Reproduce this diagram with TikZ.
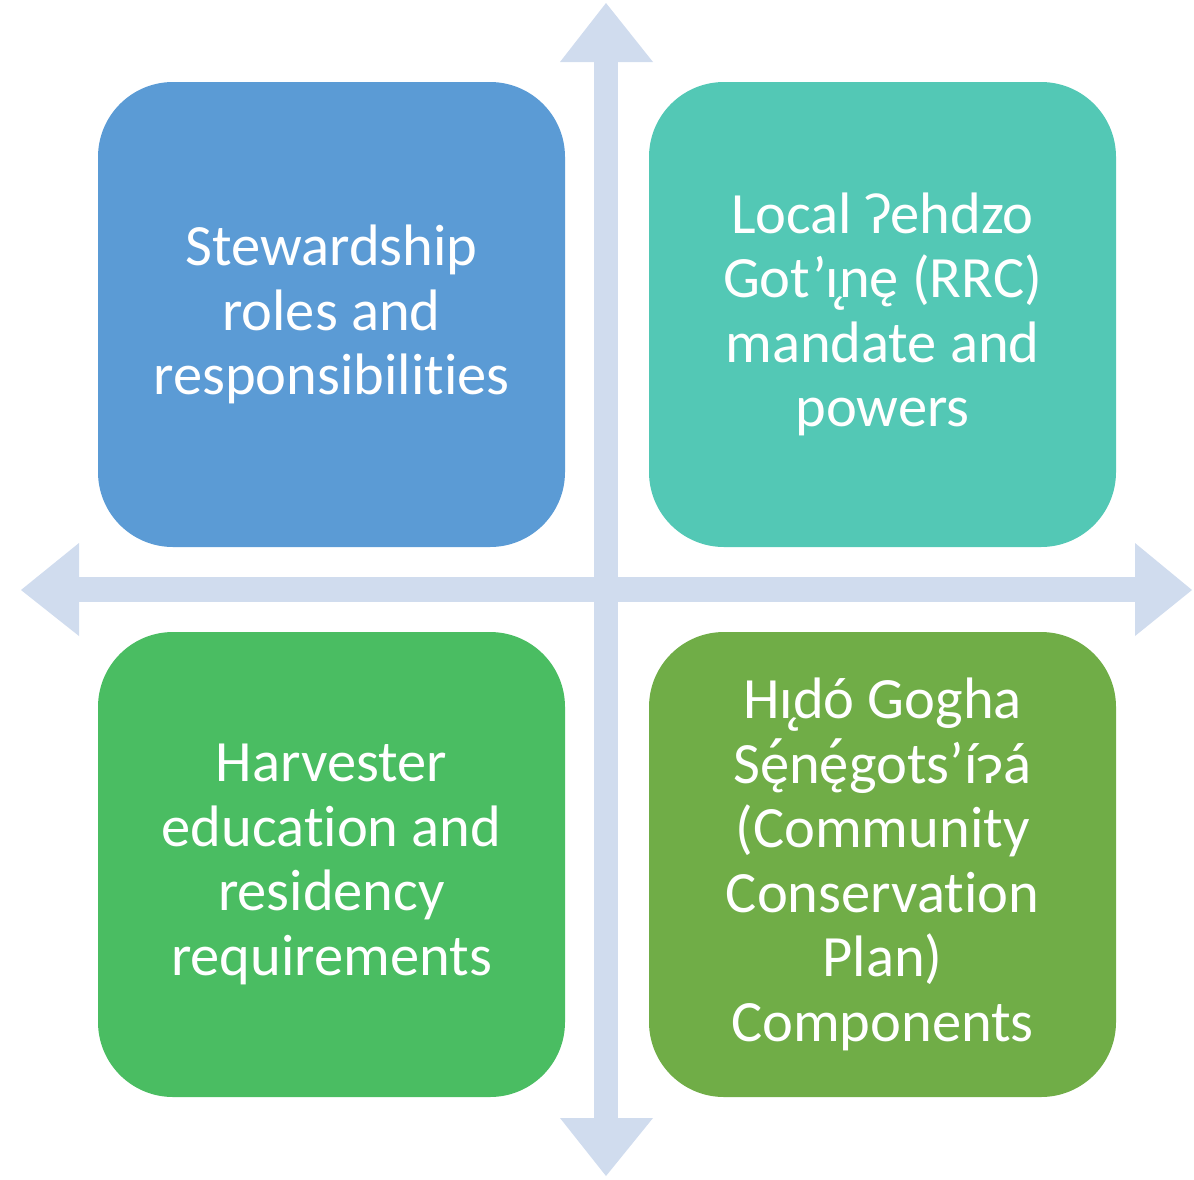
\documentclass[tikz,border=0pt]{standalone}
\usepackage{fontspec}
\setmainfont[Ligatures=NoCommon]{Carlito}
\newfontfamily\mk{Noto Sans}
\newcommand{\ogo}{{\mk ̨}}
\newcommand{\acu}{{\mk ́}}
\begin{document}
\begin{tikzpicture}[x=1pt,y=-1pt,
  quad/.style={rounded corners=75pt, minimum width=467pt, minimum height=465pt, inner sep=0pt,
     text=white, align=center, font=\fontsize{58.5}{64.5}\selectfont},
  axis/.style={fill=arrowc, draw=none}]
\definecolor{arrowc}{HTML}{D0DCEE}
\definecolor{qa}{HTML}{5B9BD5}
\definecolor{qb}{HTML}{53C8B5}
\definecolor{qc}{HTML}{4ABD62}
\definecolor{qd}{HTML}{70AD47}
\useasboundingbox (0,0) rectangle (1194,1179);
% arrows
\fill[axis] (594,60) rectangle (618,1120);
\fill[axis] (60,577) rectangle (1135,602);
\fill[axis] (606,3) -- (653,62) -- (560,62) -- cycle;
\fill[axis] (606,1176) -- (653,1118) -- (560,1118) -- cycle;
\fill[axis] (21,590) -- (79,543) -- (79,636) -- cycle;
\fill[axis] (1192,590) -- (1135,543) -- (1135,636) -- cycle;
% boxes
\node[quad, fill=qa] (tl) at (331.5,314.5) {Stewardship\\roles and\\responsibilities};
\node[quad, fill=qb] (tr) at (882.5,314.5) {Local Ɂehdzo\\Got’ı\ogo nę (RRC)\\mandate and\\powers};
\node[quad, fill=qc] (bl) at (331.5,864.5) {Harvester\\education and\\residency\\requirements};
\node[quad, fill=qd] (br) at (882.5,864.5) {Hı\ogo dó Gogha\\Sę\acu nę\acu gots’íɂá\\(Community\\Conservation\\Plan)\\Components};
\end{tikzpicture}
\end{document}
